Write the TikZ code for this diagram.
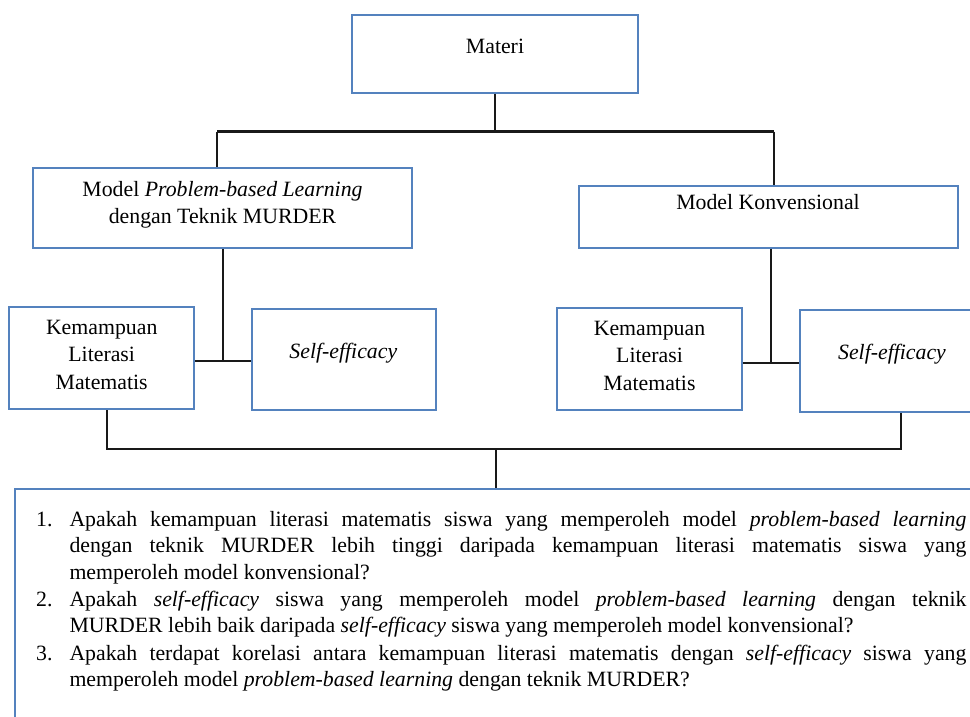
\documentclass[tikz,border=0pt]{standalone}
\usepackage{fontspec}
\setmainfont{Liberation Serif}
\newfontfamily\tnr{Liberation Serif}
\usetikzlibrary{calc}
\definecolor{boxblue}{RGB}{84,130,190}
\newcommand\mylines[2]{\parbox[t]{#1}{\centering #2}}
\hbadness=10000
\begin{document}
\begin{tikzpicture}[x=1pt,y=-1pt,
  box/.style={draw=boxblue, line width=2pt, inner sep=0pt, fill=white},
  lbl/.style={anchor=base, inner sep=0pt, font=\tnr\fontsize{21.8}{27.2}\selectfont},
  qtxt/.style={anchor=base west, inner sep=0pt, font=\tnr\fontsize{21.8}{26.8}\selectfont},
  conn/.style={draw=black!90, line width=2.2pt}]
\useasboundingbox (0,0) rectangle (970,717);
\clip (0,0) rectangle (970,717);
% boxes
\node[box, minimum width=286pt, minimum height=78pt] (materi) at (495.3,53.7) {};
\node[box, minimum width=379pt, minimum height=80pt] (modelL) at (222.2,208.3) {};
\node[box, minimum width=379.3pt, minimum height=61.7pt] (modelR) at (768.7,216.8) {};
\node[box, minimum width=184.7pt, minimum height=101.7pt] (klmL) at (101.7,358.2) {};
\node[box, minimum width=184.6pt, minimum height=101pt] (seL) at (344,359.5) {};
\node[box, minimum width=184.7pt, minimum height=101.7pt] (klmR) at (649.7,359.2) {};
\node[box, minimum width=184.6pt, minimum height=101.7pt] (seR) at (892.3,360.8) {};
\node[box, minimum width=975pt, minimum height=251pt] (bottom) at (502.2,614.5) {};
% box texts
\node[lbl] (tmateri) at (495,53.3) {Materi};
\node[lbl] (tmodelL) at (222.5,196) {\mylines{370pt}{Model \textit{Problem-based Learning}\\dengan Teknik MURDER}};
\node[lbl] (tmodelR) at (768,209) {Model Konvensional};
\node[lbl] (tklmL) at (101.7,334.7) {\mylines{180pt}{Kemampuan\\Literasi\\Matematis}};
\node[lbl] (tseL) at (343.3,358.3) {\textit{Self-efficacy}};
\node[lbl] (tklmR) at (649.5,335.7) {\mylines{180pt}{Kemampuan\\Literasi\\Matematis}};
\node[lbl] (tseR) at (892,359.3) {\textit{Self-efficacy}};
% connectors
\coordinate (jtop) at (495.3,131.5);
\coordinate (tl) at (217,131.5);
\coordinate (tr) at (774,131.5);
\draw[conn] (materi.south) -- (jtop);
\draw[conn] (tl) -- (tr);
\draw[conn] (tl) -- (tl |- modelL.north);
\draw[conn] (tr) -- (tr |- modelR.north);
\coordinate (jl) at (222.8,361);
\draw[conn] (jl |- modelL.south) -- (jl);
\draw[conn] (klmL.east |- jl) -- (seL.west |- jl);
\coordinate (jr) at (771,363.3);
\draw[conn] (jr |- modelR.south) -- (jr);
\draw[conn] (klmR.east |- jr) -- (seR.west |- jr);
\coordinate (bl) at (107.3,449.3);
\coordinate (br) at (901,449.3);
\coordinate (bm) at (496,449.3);
\draw[conn] (bl |- klmL.south) -- (bl) -- (br) -- (br |- seR.south);
\draw[conn] (bm) -- (bm |- bottom.north);
% questions
\node[qtxt] (n1) at (36,526) {1.};
\node[qtxt] (q1) at (69.3,526) {\parbox[t]{897pt}{Apakah kemampuan literasi matematis siswa yang memperoleh model \textit{problem-based learning}\linebreak dengan teknik MURDER lebih tinggi daripada kemampuan literasi matematis siswa yang\linebreak memperoleh model konvensional?}};
\node[qtxt] (n2) at (36,606) {2.};
\node[qtxt] (q2) at (69.3,606) {\parbox[t]{897pt}{Apakah \textit{self-efficacy} siswa yang memperoleh model \textit{problem-based learning} dengan teknik\linebreak MURDER lebih baik daripada \textit{self-efficacy} siswa yang memperoleh model konvensional?}};
\node[qtxt] (n3) at (36,660) {3.};
\node[qtxt] (q3) at (69.3,660) {\parbox[t]{897pt}{Apakah terdapat korelasi antara kemampuan literasi matematis dengan \textit{self-efficacy} siswa yang\linebreak memperoleh model \textit{problem-based learning} dengan teknik MURDER?}};
\end{tikzpicture}
\end{document}
